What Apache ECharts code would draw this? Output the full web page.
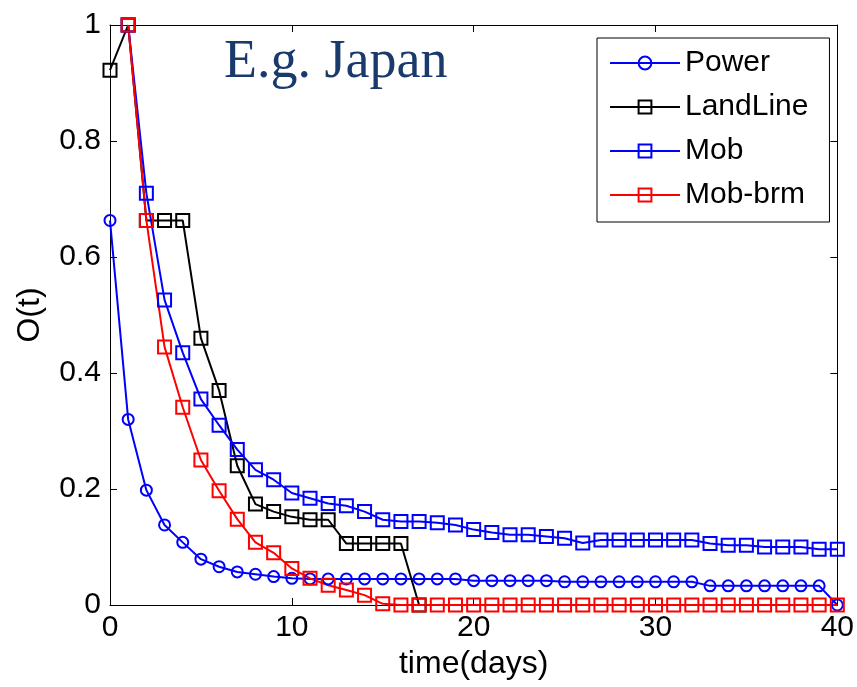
<!DOCTYPE html>
<html>
<head>
<meta charset="utf-8">
<script src="https://cdn.jsdelivr.net/npm/echarts@6/dist/echarts.min.js"></script>
<style>
  html, body { margin: 0; padding: 0; background: #fff; }
  #chart { width: 857px; height: 687px; }
</style>
</head>
<body>
<div id="chart"></div>
<script>
// x values (days)
const days = [0, 1, 2, 3, 4, 5, 6, 7, 8, 9, 10, 11, 12, 13, 14, 15, 16, 17, 18, 19, 20,
  21, 22, 23, 24, 25, 26, 27, 28, 29, 30, 31, 32, 33, 34, 35, 36, 37, 38, 39, 40];

// Power: days 0..40
const power = [0.663, 0.32, 0.198, 0.138, 0.108, 0.079, 0.066, 0.057, 0.053, 0.049, 0.046,
  0.045, 0.045, 0.045, 0.045, 0.045, 0.045, 0.045, 0.045, 0.045,
  0.042, 0.042, 0.042, 0.042, 0.042,
  0.040, 0.040, 0.040, 0.040, 0.040, 0.040, 0.040, 0.040,
  0.033, 0.033, 0.033, 0.033, 0.033, 0.033, 0.033, 0];

// LandLine: days 0..17
const landLine = [0.922, 1.0, 0.663, 0.663, 0.663, 0.46, 0.37, 0.24, 0.174, 0.161, 0.152,
  0.147, 0.147, 0.106, 0.106, 0.106, 0.106, 0];

// Mob: days 1..40
const mob = [1.0, 0.71, 0.526, 0.435, 0.355, 0.31, 0.268, 0.233, 0.216, 0.193,
  0.184, 0.175, 0.171, 0.161, 0.147, 0.144, 0.144, 0.142, 0.138, 0.13,
  0.125, 0.121, 0.121, 0.118, 0.115, 0.107, 0.112, 0.112, 0.112, 0.112,
  0.112, 0.112, 0.106, 0.103, 0.103, 0.10, 0.10, 0.10, 0.096, 0.096];

// Mob-brm: days 1..40
const mobBrm = [1.0, 0.663, 0.445, 0.341, 0.25, 0.197, 0.148, 0.108, 0.09, 0.063,
  0.046, 0.034, 0.026, 0.017, 0.002, 0, 0, 0, 0, 0,
  0, 0, 0, 0, 0, 0, 0, 0, 0, 0,
  0, 0, 0, 0, 0, 0, 0, 0, 0, 0];

const yTicks = [0, 0.2, 0.4, 0.6, 0.8, 1];

// pair values with their days, starting at a given day
const pairs = (vals, start) => vals.map((v, i) => [days[start + i], v]);

const myChart = echarts.init(document.getElementById('chart'));

const font = 'Liberation Sans, Arial, sans-serif';
const axisBase = {
  type: 'value',
  axisLine: { show: true, onZero: false, lineStyle: { color: '#000', width: 1 } },
  axisTick: { show: true, inside: true, length: 7, lineStyle: { color: '#000' } },
  splitLine: { show: false }
};

// one line series, hollow markers
const makeSeries = (name, data, color, symbol, size) => ({
  name: name,
  type: 'line',
  data: data,
  symbol: symbol,
  symbolSize: size,
  clip: false,
  animation: false,
  lineStyle: { color: color, width: 2 },
  itemStyle: { color: 'rgba(0,0,0,0)', borderColor: color, borderWidth: 2 }
});

const options = {
  backgroundColor: '#fff',
  animation: false,
  title: {
    text: 'E.g. Japan',
    left: 219,
    top: 31,
    textStyle: {
      fontFamily: 'Liberation Serif, serif',
      fontWeight: 'normal',
      fontSize: 54,
      color: '#1b3a6c'
    }
  },
  grid: { left: 110, right: 18, top: 25, bottom: 82 },
  legend: {
    orient: 'vertical',
    left: 597,
    top: 38,
    padding: [10, 21, 12, 12],
    borderColor: '#000',
    borderWidth: 1,
    backgroundColor: '#fff',
    itemWidth: 70,
    itemHeight: 16,
    itemGap: 14,
    textStyle: { fontFamily: font, fontSize: 30, color: '#000' },
    data: ['Power', 'LandLine', 'Mob', 'Mob-brm']
  },
  xAxis: [
    Object.assign({}, axisBase, {
      min: 0, max: 40, interval: 10,
      position: 'bottom',
      name: 'time(days)',
      nameLocation: 'middle',
      nameGap: 42,
      nameTextStyle: { fontFamily: font, fontSize: 32, color: '#000' },
      axisLabel: { fontFamily: font, fontSize: 30, color: '#000', margin: 8 }
    }),
    Object.assign({}, axisBase, {
      min: 0, max: 40, interval: 10,
      position: 'top',
      axisLabel: { show: false }
    })
  ],
  yAxis: [
    Object.assign({}, axisBase, {
      min: 0, max: 1, interval: 0.2,
      position: 'left',
      name: 'O(t)',
      nameLocation: 'middle',
      nameGap: 64,
      nameRotate: 90,
      nameTextStyle: { fontFamily: font, fontSize: 32, color: '#000' },
      axisLabel: { fontFamily: font, fontSize: 30, color: '#000', margin: 9,
        formatter: (v) => (yTicks.indexOf(v) >= 0 ? String(v) : '') }
    }),
    Object.assign({}, axisBase, {
      min: 0, max: 1, interval: 0.2,
      position: 'right',
      axisLabel: { show: false }
    })
  ],
  series: [
    makeSeries('Power', pairs(power, 0), '#0000ff', 'circle', 11),
    makeSeries('LandLine', pairs(landLine, 0), '#000000', 'rect', 13),
    makeSeries('Mob', pairs(mob, 1), '#0000ff', 'rect', 13),
    makeSeries('Mob-brm', pairs(mobBrm, 1), '#ff0000', 'rect', 13)
  ]
};

myChart.setOption(options);
</script>
</body>
</html>
